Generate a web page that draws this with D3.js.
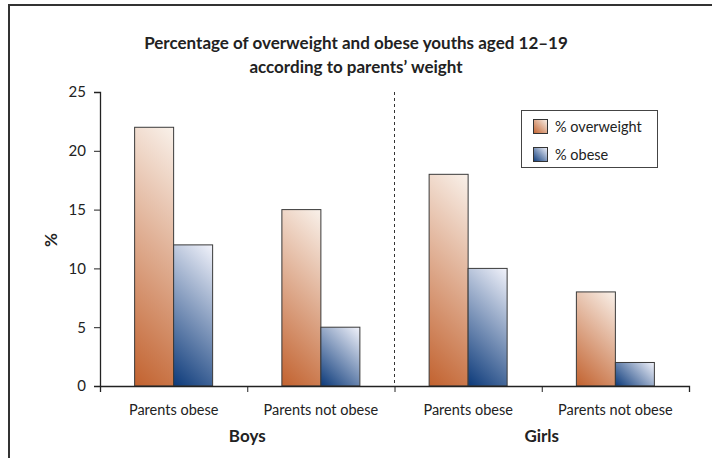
<!DOCTYPE html>
<html><head><meta charset="utf-8">
<script src="https://cdn.jsdelivr.net/npm/d3@7/dist/d3.min.js"></script>
<style>body{margin:0;background:#fff}svg{display:block}text{font-family:Lato,"Open Sans",sans-serif;fill:#222}</style>
</head><body><svg id="c" width="712" height="458"></svg>
<script>
const groups = ["Boys", "Girls"];
const categories = ["Parents obese", "Parents not obese", "Parents obese", "Parents not obese"];
const overweight = [22, 15, 18, 8];
const obese = [12, 5, 10, 2];
const seriesNames = ["% overweight", "% obese"];
const yTicks = [0, 5, 10, 15, 20, 25];
const titleLines = ["Percentage of overweight and obese youths aged 12\u201319", "according to parents\u2019 weight"];

const svg = d3.select("#c");
const W = 712, H = 458;
const m = {l:100, r:23, t:92, b:72};
const x = d3.scaleBand().domain(d3.range(categories.length)).range([m.l, W - m.r]).paddingInner(0).paddingOuter(0);
const y = d3.scaleLinear().domain([0, 25]).range([H - m.b, m.t]);
const bw = 39;

// frame (top and left visible)
svg.append("path").attr("d", `M9,${H} L9,5 L${W},5`).attr("fill","none").attr("stroke","#333").attr("stroke-width",2);

// title
svg.append("text").attr("x", 356).attr("y", 49).attr("text-anchor","middle")
  .attr("font-size", 17).attr("font-weight","bold").text(titleLines[0]);
svg.append("text").attr("x", 356).attr("y", 73).attr("text-anchor","middle")
  .attr("font-size", 17).attr("font-weight","bold").text(titleLines[1]);

const defs = svg.append("defs");
const palettes = [["#f9f1ea", "#c2622f"], ["#f2f3fb", "#0c3a7a"]];

const data = [];
categories.forEach((c, i) => {
  [overweight[i], obese[i]].forEach((v, s) => data.push({i, s, v}));
});

data.forEach((d, k) => {
  const bx = x(d.i) + x.bandwidth()/2 - bw + d.s*bw;
  const by = y(d.v), h = y(0) - y(d.v);
  const L = (bw + h)/2;
  const g = defs.append("linearGradient").attr("id","g"+k).attr("gradientUnits","userSpaceOnUse")
    .attr("x1", bx+bw).attr("y1", by).attr("x2", bx+bw-L).attr("y2", by+L);
  g.append("stop").attr("offset",0).attr("stop-color", palettes[d.s][0]);
  g.append("stop").attr("offset",1).attr("stop-color", palettes[d.s][1]);
  d.bx = bx; d.by = by; d.h = h; d.k = k;
});

svg.append("g").selectAll("rect").data(data).join("rect")
  .attr("x", d => d.bx).attr("y", d => d.by).attr("width", bw).attr("height", d => d.h)
  .attr("fill", d => `url(#g${d.k})`).attr("stroke","#3a3a3a").attr("stroke-width",1);

// dashed separator
svg.append("line").attr("x1", x(2)).attr("x2", x(2)).attr("y1", m.t).attr("y2", y(0))
  .attr("stroke","#333").attr("stroke-dasharray","3,3").attr("stroke-width",1);

// y axis
const ya = svg.append("g").attr("transform", `translate(${m.l},0)`)
  .call(d3.axisLeft(y).tickValues(yTicks).tickSize(6).tickPadding(8));
ya.select(".domain").attr("stroke","#222").attr("stroke-width",1.3);
ya.selectAll(".tick line").attr("stroke","#222");
ya.selectAll("text").attr("font-size",15).attr("font-family","Lato, sans-serif").attr("fill","#333");

// x axis
const xl = d3.scaleLinear().domain([0, categories.length]).range([m.l, W - m.r]);
const xa = svg.append("g").attr("transform", `translate(0,${y(0)})`)
  .call(d3.axisBottom(xl).tickValues(d3.range(categories.length+1)).tickSize(6).tickFormat(""));
xa.select(".domain").attr("stroke","#222").attr("stroke-width",1.3);
xa.selectAll(".tick line").attr("stroke","#222");

svg.append("g").selectAll("text").data(categories).join("text")
  .attr("x", (d,i) => x(i) + x.bandwidth()/2).attr("y", 415).attr("text-anchor","middle")
  .attr("font-size",14.5).attr("fill","#333").text(d => d);

svg.append("g").selectAll("text").data(groups).join("text")
  .attr("x", (d,i) => x(i*2) + x.bandwidth()).attr("y", 442).attr("text-anchor","middle")
  .attr("font-size",17).attr("font-weight","bold").text(d => d);

// y title
svg.append("text").attr("transform","translate(57,240) rotate(-90)").attr("text-anchor","middle")
  .attr("font-size",17).attr("font-weight","bold").text("%");

// legend
const lg = svg.append("g");
lg.append("rect").attr("x",521.5).attr("y",110.5).attr("width",136).attr("height",57)
  .attr("fill","#fff").attr("stroke","#444").attr("stroke-width",1);
seriesNames.forEach((n, s) => {
  const gid = "lg"+s;
  const g = defs.append("linearGradient").attr("id",gid).attr("x1",1).attr("y1",0).attr("x2",0).attr("y2",1);
  g.append("stop").attr("offset",0).attr("stop-color", palettes[s][0]);
  g.append("stop").attr("offset",1).attr("stop-color", palettes[s][1]);
  lg.append("rect").attr("x",533.5).attr("y",119.5 + s*28).attr("width",14).attr("height",14)
    .attr("fill",`url(#${gid})`).attr("stroke","#333");
  lg.append("text").attr("x",555).attr("y",132 + s*28).attr("font-size",14.5).attr("fill","#333").text(n);
});
</script></body></html>
